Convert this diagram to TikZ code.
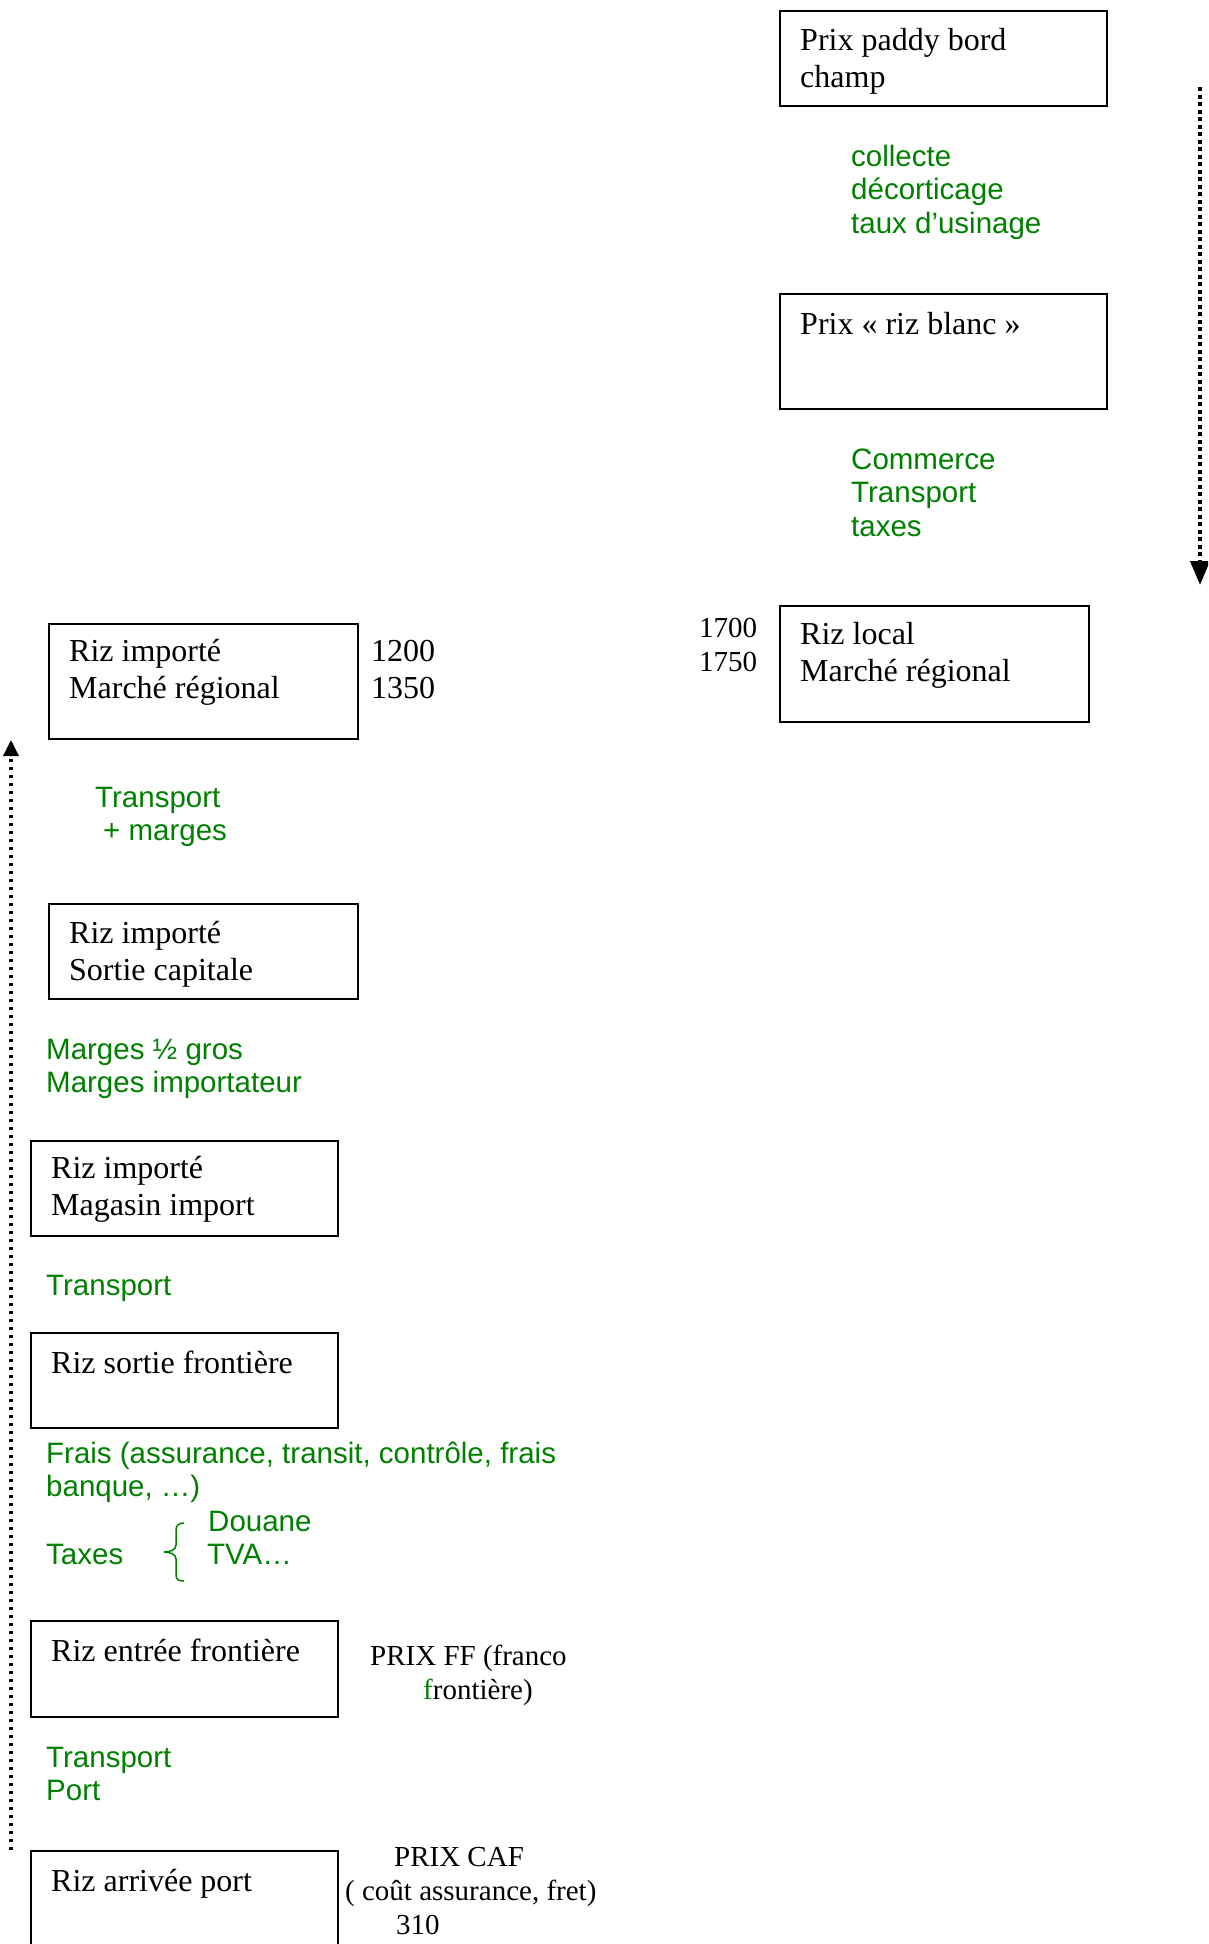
\documentclass[tikz,border=0pt]{standalone}
\usepackage{fontspec}
\setmainfont{Liberation Serif}
\newfontfamily\costsans{Liberation Sans}
\usetikzlibrary{arrows.meta}
\definecolor{costgreen}{RGB}{0,128,0}

% several lines set left-aligned, baseline on the first line
\newcommand\stackedlines[1]{\begin{tabular}[t]{@{}l@{}}#1\end{tabular}}

\tikzset{
  pricebox/.style={draw, line width=1.6pt, inner sep=0pt, anchor=north west},
  boxtext/.style={anchor=base west, inner sep=0pt, font=\fontsize{32}{37}\selectfont},
  pricenote/.style={anchor=base west, inner sep=0pt, font=\fontsize{29}{34}\selectfont},
  costtext/.style={anchor=base west, inner sep=0pt, text=costgreen,
    font=\costsans\fontsize{29.5}{33.5}\selectfont},
  flow/.style={line width=4pt, dash pattern=on 4pt off 3.5pt}
}

\begin{document}
\begin{tikzpicture}[x=1pt,y=-1pt]
\useasboundingbox (0,0) rectangle (1208,1944);
\clip (0,0) rectangle (1208,1944);

% ---- local rice chain (right column) ----
\node[pricebox, minimum width=327pt, minimum height=95pt] (paddy) at (779,10) {};
\node[boxtext] (paddyT) at (800,50) {\stackedlines{Prix paddy bord\\champ}};
\node[costtext] (usinage) at (851,166) {\stackedlines{collecte\\décorticage\\taux d’usinage}};

\node[pricebox, minimum width=327pt, minimum height=115pt] (blanc) at (779,293) {};
\node[boxtext] (blancT) at (800,334) {Prix « riz blanc »};
\node[costtext] (commerce) at (851,469) {\stackedlines{Commerce\\Transport\\taxes}};

\node[pricebox, minimum width=309pt, minimum height=116pt] (local) at (779,605) {};
\node[boxtext] (localT) at (800,644) {\stackedlines{Riz local\\Marché régional}};
\node[pricenote] (localP) at (699,637) {\stackedlines{1700\\1750}};

\coordinate (rtop) at (1200,87);
\coordinate (rtip) at (1200,585);
\draw[flow, -{Triangle[width=19pt,length=24pt]}] (rtop) -- (rtip);

% ---- imported rice chain (left column) ----
\node[pricebox, minimum width=309pt, minimum height=115pt] (impreg) at (48,623) {};
\node[boxtext] (impregT) at (69,661) {\stackedlines{Riz importé\\Marché régional}};
\node[boxtext] (impregP) at (371,661) {\stackedlines{1200\\1350}};
\node[costtext] (marges1) at (95,807) {\stackedlines{Transport\\\hspace*{8pt}+ marges}};

\node[pricebox, minimum width=309pt, minimum height=95pt] (impcap) at (48,903) {};
\node[boxtext] (impcapT) at (69,943) {\stackedlines{Riz importé\\Sortie capitale}};
\node[costtext] (marges2) at (46,1059) {\stackedlines{Marges ½ gros\\Marges importateur}};

\node[pricebox, minimum width=307pt, minimum height=95pt] (magasin) at (30,1140) {};
\node[boxtext] (magasinT) at (51,1178) {\stackedlines{Riz importé\\Magasin import}};
\node[costtext] (transp1) at (46,1295) {Transport};

\node[pricebox, minimum width=307pt, minimum height=95pt] (sortie) at (30,1332) {};
\node[boxtext] (sortieT) at (51,1373) {Riz sortie frontière};
\node[costtext] (frais) at (46,1463) {\stackedlines{Frais (assurance, transit, contrôle, frais\\banque, …)}};
\node[costtext] (taxes) at (46,1564) {Taxes};
\node[costtext] (douane) at (208,1531) {Douane};
\node[costtext] (tva) at (207,1564) {TVA…};
\draw[costgreen, line width=1.5pt]
  (184,1523) .. controls (179,1523) and (176,1525) .. (176,1530) -- (176,1545)
  .. controls (176,1550) and (170,1552) .. (164,1552)
  .. controls (170,1552) and (176,1554) .. (176,1559) -- (176,1575)
  .. controls (176,1580) and (179,1581) .. (184,1581);

\node[pricebox, minimum width=307pt, minimum height=96pt] (entree) at (30,1620) {};
\node[boxtext] (entreeT) at (51,1661) {Riz entrée frontière};
\node[pricenote] (prixff) at (370,1665) {\stackedlines{PRIX FF (franco\\\hspace*{53pt}\textcolor{costgreen}{f}rontière)}};
\node[costtext] (transp2) at (46,1767) {\stackedlines{Transport\\Port}};

\node[pricebox, minimum width=307pt, minimum height=140pt] (port) at (30,1850) {};
\node[boxtext] (portT) at (51,1891) {Riz arrivée port};
\node[pricenote] (caf) at (345,1866) {\stackedlines{\hspace*{49pt}PRIX CAF\\( coût assurance, fret)\\\hspace*{51pt}310}};

\coordinate (lbot) at (11,1850);
\coordinate (ltip) at (11,740);
\draw[flow, line width=3.5pt, dash pattern=on 3.5pt off 4.5pt, -{Triangle[width=15pt,length=16pt]}] (lbot) -- (ltip);
\end{tikzpicture}
\end{document}
